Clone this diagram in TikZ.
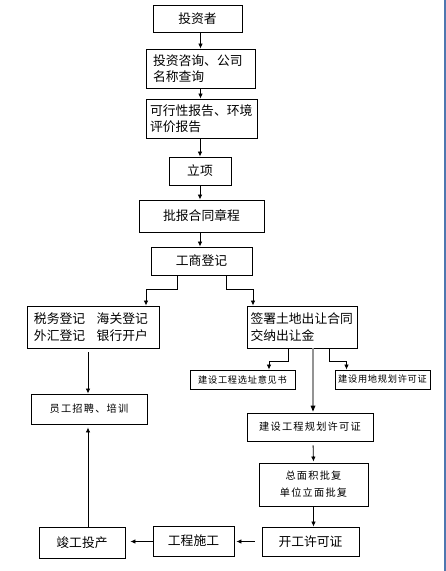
\documentclass[tikz,border=0pt]{standalone}
\usepackage{fontspec}
\newfontfamily\cjk{Noto Sans CJK SC}
\newfontfamily\cjkspa[LetterSpace=8]{Noto Sans CJK SC}
\newfontfamily\cjkspb[LetterSpace=12]{Noto Sans CJK SC}
\usetikzlibrary{arrows.meta}
\definecolor{edgeblue}{RGB}{79,119,175}
\tikzset{
  box/.style={draw, line width=0.9pt, inner sep=0pt, font=\cjk\fontsize{12.8}{16.5}\selectfont},
  smallbox/.style={draw, line width=0.9pt, inner sep=0pt, font=\cjkspa\fontsize{9.2}{12}\selectfont},
  midbox/.style={draw, line width=0.9pt, inner sep=0pt, font=\cjkspb\fontsize{10.2}{17}\selectfont},
  arr/.style={-{Latex[length=5pt,width=4.5pt]}, line width=0.8pt},
  greyarr/.style={line width=1.6pt, draw=gray!85}
}
\begin{document}
\begin{tikzpicture}[x=1pt,y=-1pt]
\useasboundingbox[fill=white] (0,0) rectangle (446,571);
\draw[edgeblue, line width=1.3pt] (445,0) -- (445,571);

\node[box, minimum width=89pt, minimum height=27pt] (n1) at (197.5,18.5) {投资者};
\node[box, minimum width=109pt, minimum height=39pt, text width=95pt, align=left] (n2) at (200.5,68.5) {投资咨询、公司\\名称查询};
\node[box, minimum width=111pt, minimum height=39pt, text width=103pt, align=left] (n3) at (201.5,118.5) {可行性报告、环境\\评价报告};
\node[box, minimum width=62pt, minimum height=28pt] (n4) at (200,171) {立项};
\node[box, minimum width=125pt, minimum height=32pt] (n5) at (201.5,216) {批报合同章程};
\node[box, minimum width=101pt, minimum height=28pt] (n6) at (201.5,261) {工商登记};
\node[box, minimum width=132pt, minimum height=42pt, text width=118pt, align=left] (n7) at (93,327) {税务登记\hspace{0.9em}海关登记\\外汇登记\hspace{0.9em}银行开户};
\node[box, minimum width=110pt, minimum height=42pt, text width=103pt, align=left] (n8) at (302,327) {签署土地出让合同\\交纳出让金};
\node[smallbox, minimum width=105pt, minimum height=19pt] (n9) at (242.5,379.5) {建设工程选址意见书};
\node[smallbox, minimum width=95pt, minimum height=19pt] (n10) at (382.5,379.5) {建设用地规划许可证};
\node[midbox, minimum width=116pt, minimum height=30pt] (n11) at (89,409) {员工招聘、培训};
\node[midbox, minimum width=126pt, minimum height=28pt] (n12) at (310,427) {建设工程规划许可证};
\node[midbox, minimum width=109pt, minimum height=43pt, align=center] (n13) at (313.5,484.5) {总面积批复\\单位立面批复};
\node[box, minimum width=97pt, minimum height=29pt] (n14) at (310.5,541.5) {开工许可证};
\node[box, minimum width=81pt, minimum height=30pt] (n15) at (193.5,541) {工程施工};
\node[box, minimum width=86pt, minimum height=31pt] (n16) at (82,542.5) {竣工投产};

\draw[arr] (n1.south -| n2) -- (n2.north);
\draw[arr] (n2.south) -- (n3.north -| n2);
\draw[arr] (n3.south -| n4) -- (n4.north);
\draw[arr] (n4.south) -- (n5.north -| n4);
\draw[arr] (n5.south -| n4) -- (n6.north -| n4);

\draw[arr] ([xshift=-24.5pt]n6.south) |- ([xshift=53pt,yshift=16pt]n7.north) -- ([xshift=53pt]n7.north);
\draw[arr] ([xshift=25pt]n6.south) |- ([xshift=-49pt,yshift=16pt]n8.north) -- ([xshift=-49pt]n8.north);

\draw[arr] ([xshift=-14pt]n8.south) |- ([xshift=26.5pt,yshift=8pt]n9.north) -- ([xshift=26.5pt]n9.north);
\draw[arr] ([xshift=27pt]n8.south) |- ([xshift=-36pt,yshift=8pt]n10.north) -- ([xshift=-36pt]n10.north);
\draw[greyarr] ([xshift=11pt]n8.south) -- ([xshift=3pt,yshift=5pt]n12.north);
\fill ([xshift=3pt,yshift=1pt]n12.north) -- ++(-2.5,-6) -- ++(5,0) -- cycle;

\draw[arr, shorten <=4pt] ([xshift=-5pt]n7.south) -- ([xshift=-1pt]n11.north);
\draw[arr, shorten <=4pt, shorten >=1pt] ([xshift=3pt]n12.south) -- (n13.north);
\draw[arr] (n13.south) -- (n14.north -| n13);
\draw[arr, shorten <=7pt, shorten >=2pt] (n14.west) -- (n15.east |- n14.west);
\draw[arr, shorten >=5pt] (n15.west |- n14.west) -- (n16.east |- n14.west);
\draw[arr, shorten >=3pt] ([xshift=6pt]n16.north) -- ([xshift=-1pt]n11.south);
\end{tikzpicture}
\end{document}
